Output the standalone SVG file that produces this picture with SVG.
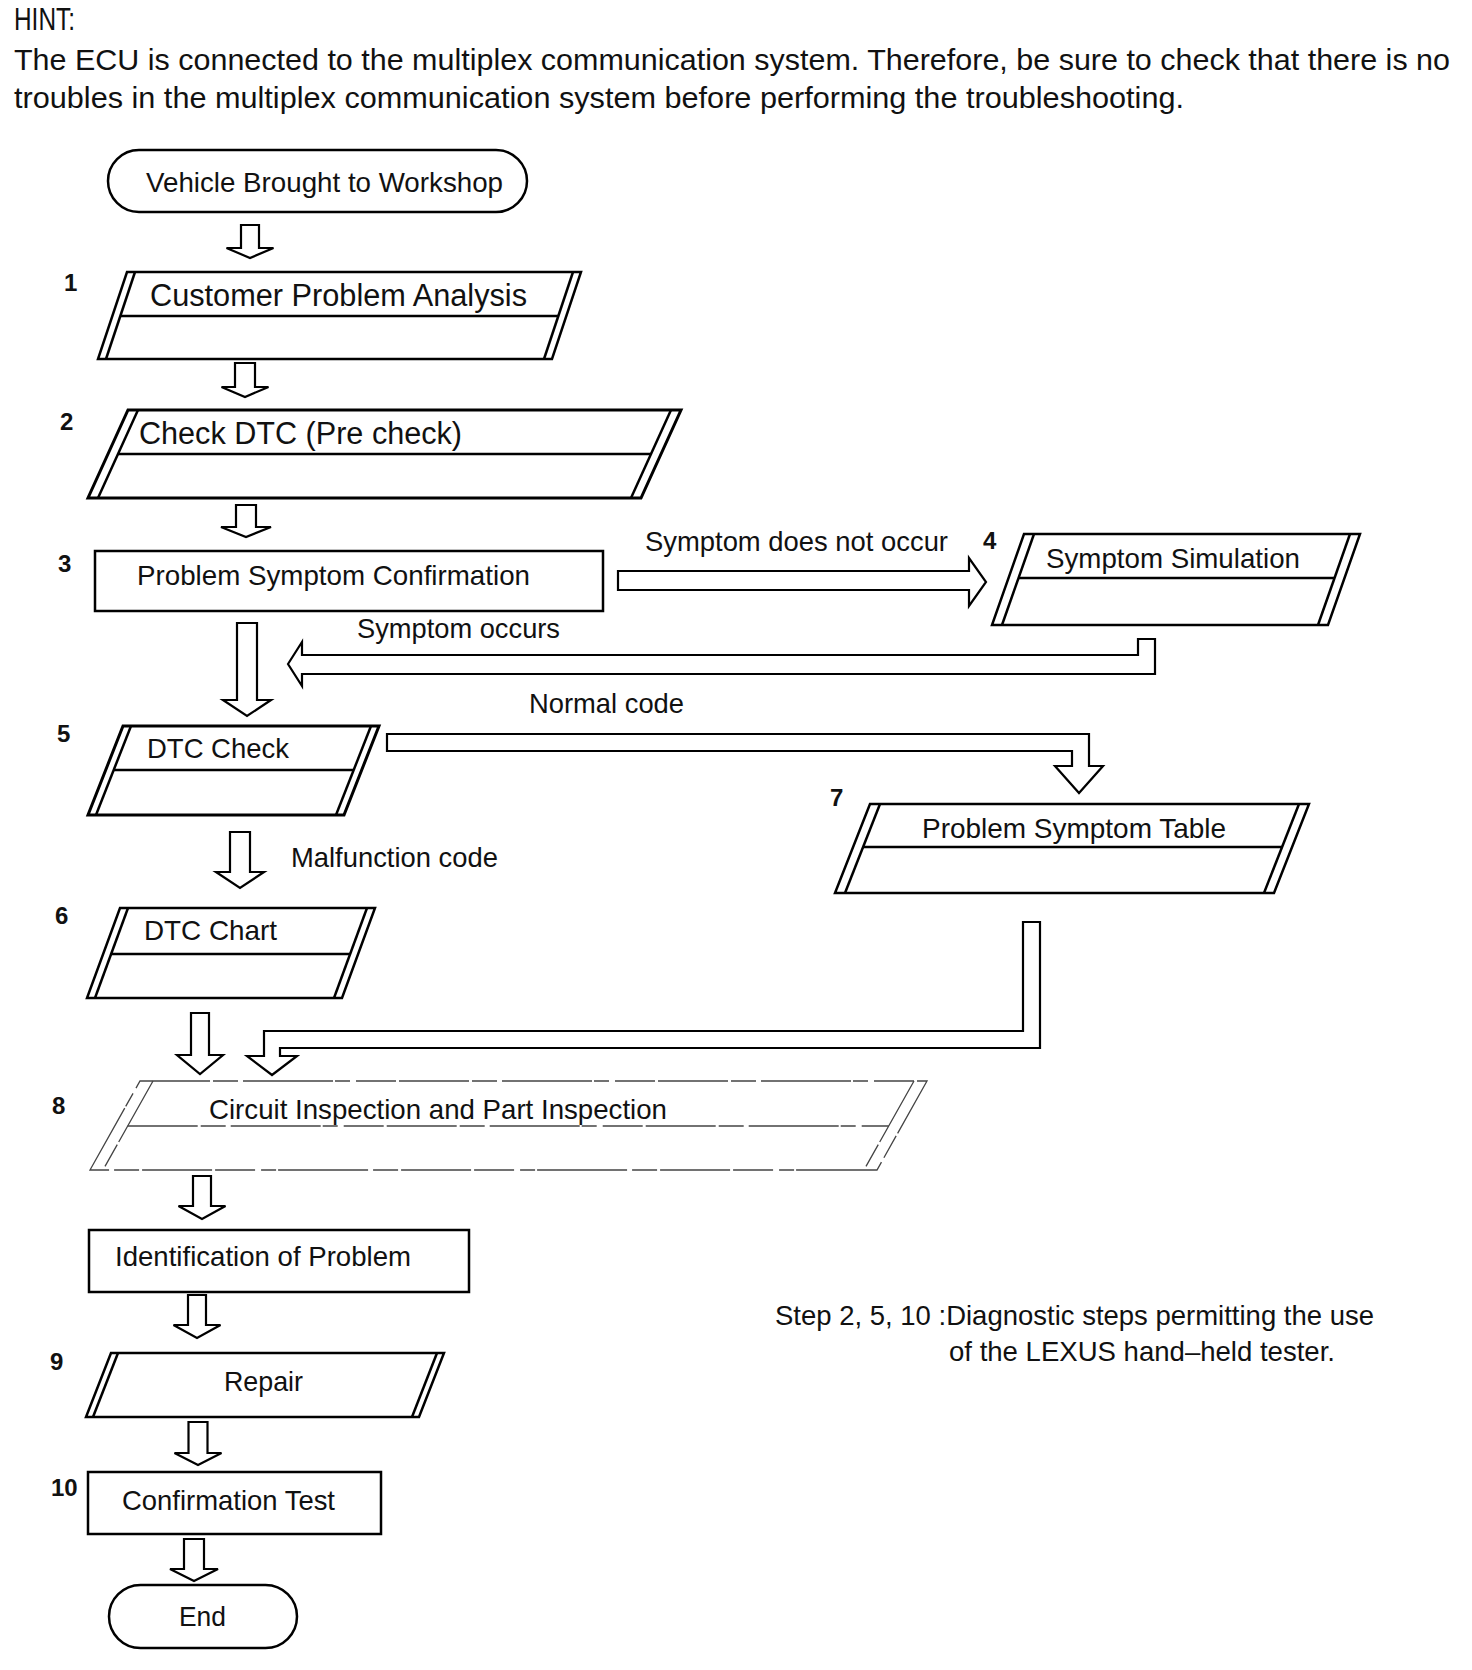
<svg xmlns="http://www.w3.org/2000/svg" width="1472" height="1670" viewBox="0 0 1472 1670">
<style>
text{font-family:"Liberation Sans",Arial,Helvetica,sans-serif;fill:#111}
.h{font-size:30px}
.hint{font-size:31px}
.lbl{font-size:28px}
.big{font-size:31px}
.num{font-size:24px;font-weight:bold}
.sh{fill:#fff;stroke:#000;stroke-width:2.5;stroke-linejoin:miter}
.thick{stroke-width:3}
.ln{stroke:#000;stroke-width:2.5;fill:none}
.faint{fill:#fff;stroke:#444;stroke-width:1.3;stroke-dasharray:70 3 25 5 90 2 15 6 40 3}
.fln{stroke:#444;stroke-width:1.3;fill:none;stroke-dasharray:70 3 25 5 90 2 15 6 40 3}
.arr{fill:#fff;stroke:#000;stroke-width:2.2;stroke-linejoin:miter}
</style>
<rect width="1472" height="1670" fill="#fff"/>

<g id="hint">
<text class="hint" x="14" y="30" textLength="61" lengthAdjust="spacingAndGlyphs">HINT:</text>
<text class="h" x="14" y="70" textLength="1436" lengthAdjust="spacingAndGlyphs">The ECU is connected to the multiplex communication system. Therefore, be sure to check that there is no</text>
<text class="h" x="14" y="108" textLength="1170" lengthAdjust="spacingAndGlyphs">troubles in the multiplex communication system before performing the troubleshooting.</text>
</g>

<g id="connectors">
<polygon class="arr" points="241,225 259,225 259,248 273.5,248 250,258 226.5,248 241,248"/>
<polygon class="arr" points="235,363 255,363 255,387 268.5,387 245,397 221.5,387 235,387"/>
<polygon class="arr" points="236,505 256,505 256,527 271,527 246,537 221,527 236,527"/>
<polygon class="arr" points="618,571 969,571 969,558 986,582 969,606 969,590 618,590"/>
<polygon class="arr" points="288,664 302,642 302,655 1138,655 1138,639 1155,639 1155,674 302,674 302,686"/>
<polygon class="arr" points="237,623 257,623 257,700 271,700 247,716 223,700 237,700"/>
<polygon class="arr" points="387,734 1089,734 1089,766 1103,766 1079,793 1055,766 1072,766 1072,751 387,751"/>
<polygon class="arr" points="230,832 250,832 250,872 264,872 240,888 216,872 230,872"/>
<polygon class="arr" points="191,1013 209,1013 209,1055 223,1055 200,1074 177,1055 191,1055"/>
<polygon class="arr" points="1023,922 1040,922 1040,1048 280,1048 280,1056 297,1056 272,1075 247,1056 264,1056 264,1031 1023,1031"/>
<polygon class="arr" points="193,1176 211,1176 211,1206 225.5,1206 202,1219 178.5,1206 193,1206"/>
<polygon class="arr" points="188,1295 206,1295 206,1325 220.5,1325 197,1338 173.5,1325 188,1325"/>
<polygon class="arr" points="188.5,1422 207.5,1422 207.5,1453 221.5,1453 198,1465 174.5,1453 188.5,1453"/>
<polygon class="arr" points="184,1539 204,1539 204,1569 218,1569 194,1581 170,1569 184,1569"/>
<text class="lbl" x="645" y="551" textLength="303" lengthAdjust="spacingAndGlyphs">Symptom does not occur</text>
<text class="lbl" x="357" y="638" textLength="203" lengthAdjust="spacingAndGlyphs">Symptom occurs</text>
<text class="lbl" x="529" y="713" textLength="155" lengthAdjust="spacingAndGlyphs">Normal code</text>
<text class="lbl" x="291" y="867" textLength="207" lengthAdjust="spacingAndGlyphs">Malfunction code</text>
</g>

<g id="start">
<rect class="sh" x="108" y="150" width="419" height="62" rx="31" ry="31" stroke-width="2"/>
<text class="lbl" x="146" y="192" textLength="357" lengthAdjust="spacingAndGlyphs">Vehicle Brought to Workshop</text>
</g>

<g id="step1">
<text class="num" x="64" y="291">1</text>
<polygon class="sh" points="127,272 581,272 552,359 98,359"/>
<line class="ln" x1="135" y1="272" x2="106" y2="359"/>
<line class="ln" x1="573" y1="272" x2="544" y2="359"/>
<line class="ln" x1="120" y1="316" x2="558" y2="316"/>
<text class="big" x="150" y="306" textLength="377" lengthAdjust="spacingAndGlyphs">Customer Problem Analysis</text>
</g>

<g id="step2">
<text class="num" x="60" y="430">2</text>
<polygon class="sh thick" points="128,410 681,410 641,498 88,498"/>
<line class="ln" stroke-width="3" x1="138" y1="410" x2="98" y2="498"/>
<line class="ln" stroke-width="3" x1="671" y1="410" x2="631" y2="498"/>
<line class="ln" x1="118" y1="454" x2="651" y2="454"/>
<text class="big" x="139" y="444" textLength="323" lengthAdjust="spacingAndGlyphs">Check DTC (Pre check)</text>
</g>

<g id="step3">
<text class="num" x="58" y="572">3</text>
<rect class="sh" x="95" y="551" width="508" height="60"/>
<text class="lbl" x="137" y="585" textLength="393" lengthAdjust="spacingAndGlyphs">Problem Symptom Confirmation</text>
</g>

<g id="step4">
<text class="num" x="983" y="549">4</text>
<polygon class="sh" points="1024,534 1360,534 1328,625 992,625"/>
<line class="ln" x1="1034" y1="534" x2="1002" y2="625"/>
<line class="ln" x1="1350" y1="534" x2="1318" y2="625"/>
<line class="ln" x1="1018.5" y1="578" x2="1334.5" y2="578"/>
<text class="lbl" x="1046" y="568" textLength="254" lengthAdjust="spacingAndGlyphs">Symptom Simulation</text>
</g>

<g id="step5">
<text class="num" x="57" y="742">5</text>
<polygon class="sh thick" points="123,726 379,726 344,815 88,815"/>
<line class="ln" stroke-width="3" x1="131" y1="726" x2="96" y2="815"/>
<line class="ln" stroke-width="3" x1="371" y1="726" x2="336" y2="815"/>
<line class="ln" x1="113.7" y1="770" x2="353.7" y2="770"/>
<text class="lbl" x="147" y="758" textLength="142" lengthAdjust="spacingAndGlyphs">DTC Check</text>
</g>

<g id="step6">
<text class="num" x="55" y="924">6</text>
<polygon class="sh" points="120,908 375,908 342,998 87,998"/>
<line class="ln" x1="128" y1="908" x2="95" y2="998"/>
<line class="ln" x1="367" y1="908" x2="334" y2="998"/>
<line class="ln" x1="111.1" y1="954" x2="350.1" y2="954"/>
<text class="lbl" x="144" y="940" textLength="133" lengthAdjust="spacingAndGlyphs">DTC Chart</text>
</g>

<g id="step7">
<text class="num" x="830" y="806">7</text>
<polygon class="sh" points="870,804 1309,804 1274,893 835,893"/>
<line class="ln" x1="880" y1="804" x2="845" y2="893"/>
<line class="ln" x1="1299" y1="804" x2="1264" y2="893"/>
<line class="ln" x1="863.1" y1="847" x2="1282.1" y2="847"/>
<text class="lbl" x="922" y="838" textLength="304" lengthAdjust="spacingAndGlyphs">Problem Symptom Table</text>
</g>

<g id="step8">
<text class="num" x="52" y="1114">8</text>
<polygon class="faint" points="140,1081 927,1081 877,1170 90,1170"/>
<line class="fln" x1="153" y1="1081" x2="103" y2="1170"/>
<line class="fln" x1="914" y1="1081" x2="864" y2="1170"/>
<line class="fln" x1="127.7" y1="1126" x2="888.7" y2="1126"/>
<text class="lbl" x="209" y="1119" textLength="458" lengthAdjust="spacingAndGlyphs">Circuit Inspection and Part Inspection</text>
</g>

<g id="identification">
<rect class="sh" x="89" y="1230" width="380" height="62" stroke-width="2"/>
<text class="lbl" x="115" y="1266" textLength="296" lengthAdjust="spacingAndGlyphs">Identification of Problem</text>
</g>

<g id="step9">
<text class="num" x="50" y="1370">9</text>
<polygon class="sh" points="111,1353 444,1353 419,1417 86,1417" stroke-width="2"/>
<line class="ln" stroke-width="2" x1="118" y1="1353" x2="93" y2="1417"/>
<line class="ln" stroke-width="2" x1="437" y1="1353" x2="412" y2="1417"/>
<text class="lbl" x="224" y="1391" textLength="79" lengthAdjust="spacingAndGlyphs">Repair</text>
</g>

<g id="step10">
<text class="num" x="51" y="1496">10</text>
<rect class="sh" x="88" y="1472" width="293" height="62"/>
<text class="lbl" x="122" y="1510" textLength="213" lengthAdjust="spacingAndGlyphs">Confirmation Test</text>
</g>

<g id="end">
<rect class="sh" x="109" y="1585" width="188" height="63" rx="31.5" ry="31.5" stroke-width="2"/>
<text class="lbl" x="179" y="1626" textLength="47" lengthAdjust="spacingAndGlyphs">End</text>
</g>

<g id="note">
<text class="lbl" x="775" y="1325" textLength="599" lengthAdjust="spacingAndGlyphs">Step 2, 5, 10 :Diagnostic steps permitting the use</text>
<text class="lbl" x="949" y="1361" textLength="386" lengthAdjust="spacingAndGlyphs">of the LEXUS hand–held tester.</text>
</g>
</svg>
